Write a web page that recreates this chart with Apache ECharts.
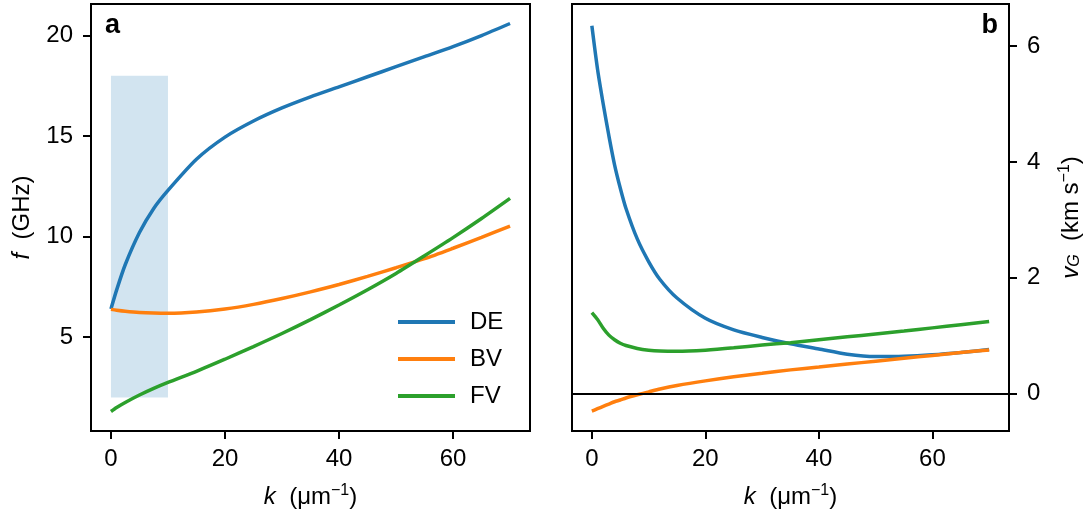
<!DOCTYPE html>
<html>
<head>
<meta charset="utf-8">
<script src="https://cdn.jsdelivr.net/npm/echarts@6/dist/echarts.min.js"></script>
<style>
html,body{margin:0;padding:0;background:#fff;}
#chart{width:1084px;height:519px;}
</style>
</head>
<body>
<div id="chart"></div>
<script>
// ---- data ----
const seriesNames = ['DE', 'BV', 'FV'];
const kF = [0, 1, 2.5, 5, 7.5, 10, 15, 20, 25, 30, 35, 40, 45, 50, 55, 60, 65, 70];
const fDE = [6.4, 7.35, 8.6, 10.2, 11.4, 12.3, 13.85, 14.95, 15.75, 16.4, 16.95, 17.45, 17.95, 18.45, 18.95, 19.45, 20.0, 20.6];
const fBV = [6.38, 6.34, 6.29, 6.23, 6.2, 6.19, 6.25, 6.4, 6.63, 6.92, 7.25, 7.62, 8.02, 8.45, 8.9, 9.42, 9.96, 10.52];
const fFV = [1.3, 1.5, 1.75, 2.12, 2.45, 2.75, 3.3, 3.9, 4.53, 5.18, 5.87, 6.6, 7.36, 8.17, 9.05, 9.95, 10.9, 11.9];

const kV = [0, 1, 2, 3, 4, 5, 6, 8, 10, 12, 15, 20, 25, 30, 35, 40, 45, 50, 55, 60, 65, 70];
const vDE = [6.35, 5.6, 5.0, 4.45, 3.95, 3.55, 3.2, 2.67, 2.28, 1.97, 1.65, 1.3, 1.1, 0.97, 0.86, 0.77, 0.68, 0.64, 0.645, 0.67, 0.71, 0.76];
const vBV = [-0.3, -0.26, -0.22, -0.18, -0.14, -0.11, -0.075, -0.02, 0.03, 0.08, 0.14, 0.22, 0.29, 0.35, 0.41, 0.46, 0.51, 0.56, 0.61, 0.66, 0.71, 0.755];
const vFV = [1.4, 1.28, 1.13, 1.01, 0.93, 0.87, 0.83, 0.78, 0.75, 0.735, 0.73, 0.75, 0.79, 0.84, 0.88, 0.93, 0.98, 1.03, 1.08, 1.135, 1.19, 1.245];

const shadeK = [0, 10];
const shadeF = [2, 18];
const xTicks = [0, 20, 40, 60];
const fTicks = [5, 10, 15, 20];
const vTicks = [0, 2, 4, 6];
const xRange = [-3.5, 73.5];
const fRange = [0.33, 21.57];
const vRange = [-0.645, 6.725];

// ---- chart ----
const colors = ['#1f77b4', '#ff7f0e', '#2ca02c'];
const FONT = '"Liberation Sans", Arial, sans-serif';
const pairs = (xs, ys) => xs.map((x, i) => [x, ys[i]]);
const tickStyle = { color: '#000', width: 2 };
const axisLineStyle = { show: true, onZero: false, lineStyle: { color: '#000', width: 2 } };

function xAxisDef(gridIndex) {
  return {
    type: 'value', gridIndex, min: xRange[0], max: xRange[1],
    axisLine: axisLineStyle, splitLine: { show: false },
    axisTick: { show: true, length: 8, lineStyle: tickStyle, customValues: xTicks },
    axisLabel: { color: '#000', fontSize: 24, fontFamily: FONT, margin: 16, customValues: xTicks },
    name: '{i|k}  (μm{sup|−1})',
    nameLocation: 'middle', nameGap: 52,
    nameTextStyle: {
      color: '#000', fontSize: 24, fontFamily: FONT,
      rich: {
        i: { fontStyle: 'italic', fontSize: 24, fontFamily: FONT, color: '#000' },
        sup: { fontSize: 16, fontFamily: FONT, color: '#000', padding: [0, 0, 12, 0] }
      }
    }
  };
}

const lineSeries = (name, data, xi, yi, ci) => ({
  name, type: 'line', data, xAxisIndex: xi, yAxisIndex: yi,
  showSymbol: false, symbol: 'none', smooth: 0.25,
  lineStyle: { color: colors[ci], width: 3.5 }, itemStyle: { color: colors[ci] },
  z: 3, silent: true
});

const option = {
  animation: false,
  backgroundColor: '#fff',
  grid: [
    { left: 91, top: 4, width: 439, height: 427, show: true, borderColor: '#000', borderWidth: 2, backgroundColor: 'transparent' },
    { left: 572, top: 4, width: 438, height: 427, show: true, borderColor: '#000', borderWidth: 2, backgroundColor: 'transparent' }
  ],
  xAxis: [xAxisDef(0), xAxisDef(1)],
  yAxis: [
    {
      type: 'value', gridIndex: 0, min: fRange[0], max: fRange[1],
      axisLine: axisLineStyle, splitLine: { show: false },
      axisTick: { show: true, length: 8, lineStyle: tickStyle, customValues: fTicks },
      axisLabel: { color: '#000', fontSize: 24, fontFamily: FONT, margin: 18, customValues: fTicks },
      name: '{i|f}  (GHz)', nameLocation: 'middle', nameGap: 57, nameRotate: 90,
      nameTextStyle: {
        color: '#000', fontSize: 24, fontFamily: FONT,
        rich: { i: { fontStyle: 'italic', fontSize: 24, fontFamily: FONT, color: '#000' } }
      }
    },
    {
      type: 'value', gridIndex: 1, position: 'right', min: vRange[0], max: vRange[1],
      axisLine: axisLineStyle, splitLine: { show: false },
      axisTick: { show: true, length: 8, lineStyle: tickStyle, customValues: vTicks },
      axisLabel: { color: '#000', fontSize: 24, fontFamily: FONT, margin: 18, customValues: vTicks },
      name: '{i|v}{sub|G}  (km s{sup|−1})', nameLocation: 'middle', nameGap: 48, nameRotate: 90,
      nameTextStyle: {
        color: '#000', fontSize: 24, fontFamily: FONT,
        rich: {
          i: { fontStyle: 'italic', fontSize: 24, fontFamily: FONT, color: '#000' },
          sub: { fontStyle: 'italic', fontSize: 16, fontFamily: FONT, color: '#000', padding: [8, 0, 0, 0] },
          sup: { fontSize: 16, fontFamily: FONT, color: '#000', padding: [0, 0, 12, 0] }
        }
      }
    }
  ],
  legend: {
    data: seriesNames,
    orient: 'vertical',
    left: 393, top: 305,
    icon: 'rect', itemWidth: 57, itemHeight: 4, itemGap: 13,
    textStyle: { color: '#000', fontSize: 24, fontFamily: FONT, padding: [0, 0, 0, 10] },
    selectedMode: false
  },
  graphic: [
    { type: 'text', left: 105, top: 12, style: { text: 'a', font: 'bold 27px ' + FONT, fill: '#000' } },
    { type: 'text', right: 86, top: 12, style: { text: 'b', font: 'bold 27px ' + FONT, fill: '#000' } }
  ],
  series: [
    Object.assign(lineSeries(seriesNames[0], pairs(kF, fDE), 0, 0, 0), {
      markArea: {
        silent: true,
        itemStyle: { color: 'rgba(31,119,180,0.2)' },
        data: [[{ xAxis: shadeK[0], yAxis: shadeF[0] }, { xAxis: shadeK[1], yAxis: shadeF[1] }]]
      }
    }),
    lineSeries(seriesNames[1], pairs(kF, fBV), 0, 0, 1),
    lineSeries(seriesNames[2], pairs(kF, fFV), 0, 0, 2),
    Object.assign(lineSeries(seriesNames[0], pairs(kV, vDE), 1, 1, 0), {
      markLine: {
        silent: true, symbol: 'none', label: { show: false },
        lineStyle: { color: '#000', width: 2, type: 'solid' },
        data: [{ yAxis: 0 }]
      }
    }),
    lineSeries(seriesNames[1], pairs(kV, vBV), 1, 1, 1),
    lineSeries(seriesNames[2], pairs(kV, vFV), 1, 1, 2)
  ]
};

const chart = echarts.init(document.getElementById('chart'), null, { renderer: 'canvas' });
chart.setOption(option);
</script>
</body>
</html>
